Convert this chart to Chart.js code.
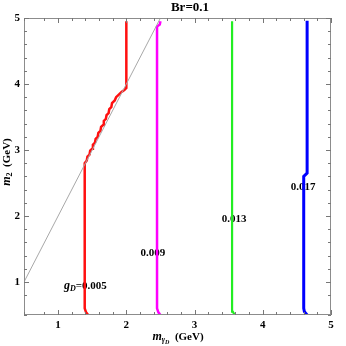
<!DOCTYPE html>
<html>
<head>
<meta charset="utf-8">
<script src="https://cdn.jsdelivr.net/npm/chart.js@4.4.0/dist/chart.umd.min.js"></script>
<style>
  html, body { margin: 0; padding: 0; background: #fff; }
  #wrap { width: 346px; height: 346px; }
</style>
</head>
<body>
<div id="wrap"><canvas id="chart"></canvas></div>
<script>
// Contour data: x = m_gammaD (GeV), y = m_2 (GeV)
const boundaryX = [0.5, 2.5];
const boundaryY = [1, 5];

const red005X = [1.44, 1.41, 1.39, 1.39, 1.42, 1.43, 1.46, 1.47, 1.50, 1.51, 1.54, 1.55, 1.58, 1.59, 1.62, 1.63, 1.66, 1.67, 1.70, 1.71, 1.74, 1.75, 1.78, 1.79, 1.83, 1.85, 1.89, 1.93, 1.97, 2.00, 2.00];
const red005Y = [0.50, 0.54, 0.60, 2.80, 2.84, 2.90, 2.93, 2.99, 3.02, 3.08, 3.11, 3.17, 3.20, 3.26, 3.29, 3.35, 3.38, 3.44, 3.47, 3.53, 3.56, 3.62, 3.65, 3.71, 3.75, 3.80, 3.84, 3.88, 3.91, 3.94, 4.95];

const mag009X = [2.50, 2.47, 2.45, 2.45, 2.49, 2.50];
const mag009Y = [0.50, 0.54, 0.60, 4.87, 4.90, 4.95];

const grn013X = [3.59, 3.56, 3.55, 3.55];
const grn013Y = [0.50, 0.55, 0.60, 4.95];

const blu017X = [4.65, 4.61, 4.60, 4.60, 4.65, 4.65];
const blu017Y = [0.50, 0.55, 0.60, 2.60, 2.65, 4.96];

// contour labels: text and data anchor
const labelText = ["0.005", "0.009", "0.013", "0.017"];
const labelX = [1.40, 2.39, 3.58, 4.59];
const labelY = [0.94, 1.44, 1.95, 2.44];

const toPts = (xs, ys) => xs.map((x, i) => ({ x: x, y: ys[i] }));

const SERIF = '"Liberation Serif", "DejaVu Serif", serif';

function line(xs, ys, color, width) {
  return {
    data: toPts(xs, ys),
    borderColor: color,
    borderWidth: width,
    pointRadius: 0,
    showLine: true,
    fill: false,
    tension: 0
  };
}

// frame, inside ticks, titles and contour labels
const decor = {
  id: "decor",
  beforeDatasetsDraw(chart) {
    const ctx = chart.ctx;
    const xs = chart.scales.x, ys = chart.scales.y;
    ctx.save();
    ctx.fillStyle = "#000";
    ctx.textBaseline = "middle";
    labelText.forEach((t, i) => {
      const px = xs.getPixelForValue(labelX[i]);
      const py = ys.getPixelForValue(labelY[i]);
      ctx.font = "bold 11px " + SERIF;
      if (i === 0) {
        // g_D=0.005
        ctx.textAlign = "left";
        ctx.font = "italic bold 12px " + SERIF;
        const g = "g";
        const gw = ctx.measureText(g).width;
        ctx.font = "italic bold 8px " + SERIF;
        const dw = ctx.measureText("D").width;
        ctx.font = "bold 11px " + SERIF;
        const rest = "=" + t;
        const rw = ctx.measureText(rest).width;
        let x0 = px - (gw + dw + rw) / 2;
        ctx.font = "italic bold 12px " + SERIF;
        ctx.fillText(g, x0, py);
        ctx.font = "italic bold 8px " + SERIF;
        ctx.fillText("D", x0 + gw, py + 3);
        ctx.font = "bold 11px " + SERIF;
        ctx.fillText(rest, x0 + gw + dw, py);
      } else {
        ctx.textAlign = "center";
        ctx.fillText(t, px, py);
      }
    });
    ctx.restore();
  },
  afterDraw(chart) {
    const ctx = chart.ctx;
    const a = chart.chartArea;
    const xs = chart.scales.x, ys = chart.scales.y;
    ctx.save();
    ctx.strokeStyle = "#8c8c8c";
    ctx.lineWidth = 1;
    ctx.strokeRect(a.left + 0.5, a.top + 0.5, a.right - a.left - 1, a.bottom - a.top - 1);
    const isMajor = v => Math.abs(v - Math.round(v)) < 1e-6;
    ctx.strokeStyle = "#777";
    ctx.beginPath();
    xs.ticks.forEach(t => {
      const px = Math.round(xs.getPixelForValue(t.value)) + 0.5;
      const len = isMajor(t.value) ? 5 : 3;
      ctx.moveTo(px, a.bottom); ctx.lineTo(px, a.bottom - len);
      ctx.moveTo(px, a.top); ctx.lineTo(px, a.top + len);
    });
    ys.ticks.forEach(t => {
      const py = Math.round(ys.getPixelForValue(t.value)) + 0.5;
      const len = isMajor(t.value) ? 5 : 3;
      ctx.moveTo(a.left, py); ctx.lineTo(a.left + len, py);
      ctx.moveTo(a.right, py); ctx.lineTo(a.right - len, py);
    });
    ctx.stroke();

    // title
    ctx.fillStyle = "#000";
    ctx.textBaseline = "middle";
    ctx.textAlign = "center";
    ctx.font = "bold 13px " + SERIF;
    ctx.fillText("Br=0.1", 190, 8);

    // x title: m_{gamma_D} (GeV)
    ctx.textAlign = "left";
    const parts = [
      { t: "m", f: "italic bold 12px ", dy: 0 },
      { t: "\u03b3", f: "italic bold 8px ", dy: 3 },
      { t: "D", f: "italic bold 6px ", dy: 5 },
      { t: "  (GeV)", f: "bold 11px ", dy: 0 }
    ];
    let w = 0;
    parts.forEach(p => { ctx.font = p.f + SERIF; p.w = ctx.measureText(p.t).width; w += p.w; });
    let x0 = 178 - w / 2;
    parts.forEach(p => { ctx.font = p.f + SERIF; ctx.fillText(p.t, x0, 337 + p.dy); x0 += p.w; });

    // y title: m_2 (GeV)
    ctx.translate(7, 162);
    ctx.rotate(-Math.PI / 2);
    const yparts = [
      { t: "m", f: "italic bold 12px ", dy: 0 },
      { t: "2", f: "bold 8px ", dy: 3 },
      { t: "  (GeV)", f: "bold 11px ", dy: 0 }
    ];
    w = 0;
    yparts.forEach(p => { ctx.font = p.f + SERIF; p.w = ctx.measureText(p.t).width; w += p.w; });
    x0 = -w / 2;
    yparts.forEach(p => { ctx.font = p.f + SERIF; ctx.fillText(p.t, x0, p.dy); x0 += p.w; });
    ctx.restore();
  }
};

const majorOnly = v => (Math.abs(v - Math.round(v)) < 1e-6 ? String(Math.round(v)) : "");

new Chart(document.getElementById("chart"), {
  type: "scatter",
  data: {
    datasets: [
      line(boundaryX, boundaryY, "#a8a8a8", 1),
      line(red005X, red005Y, "#ff1010", 2.5),
      line(mag009X, mag009Y, "#ff00ff", 2.5),
      line(grn013X, grn013Y, "#22ee22", 2.2),
      line(blu017X, blu017Y, "#0000ff", 3)
    ]
  },
  options: {
    responsive: true,
    maintainAspectRatio: false,
    animation: false,
    layout: { padding: { top: 18, right: 15, left: 0, bottom: 0 } },
    plugins: { legend: { display: false }, tooltip: { enabled: false } },
    scales: {
      x: {
        type: "linear", min: 0.5, max: 5,
        afterFit: s => { s.height = 31; },
        grid: { display: false, drawTicks: false },
        border: { display: false },
        ticks: { stepSize: 0.2, autoSkip: false, maxRotation: 0, padding: 4, color: "#000",
                 font: { family: SERIF, weight: "bold", size: 11 }, callback: majorOnly }
      },
      y: {
        type: "linear", min: 0.5, max: 5,
        afterFit: s => { s.width = 24; },
        grid: { display: false, drawTicks: false },
        border: { display: false },
        ticks: { stepSize: 0.2, autoSkip: false, padding: 4, color: "#000",
                 font: { family: SERIF, weight: "bold", size: 11 }, callback: majorOnly }
      }
    }
  },
  plugins: [decor]
});
</script>
</body>
</html>
